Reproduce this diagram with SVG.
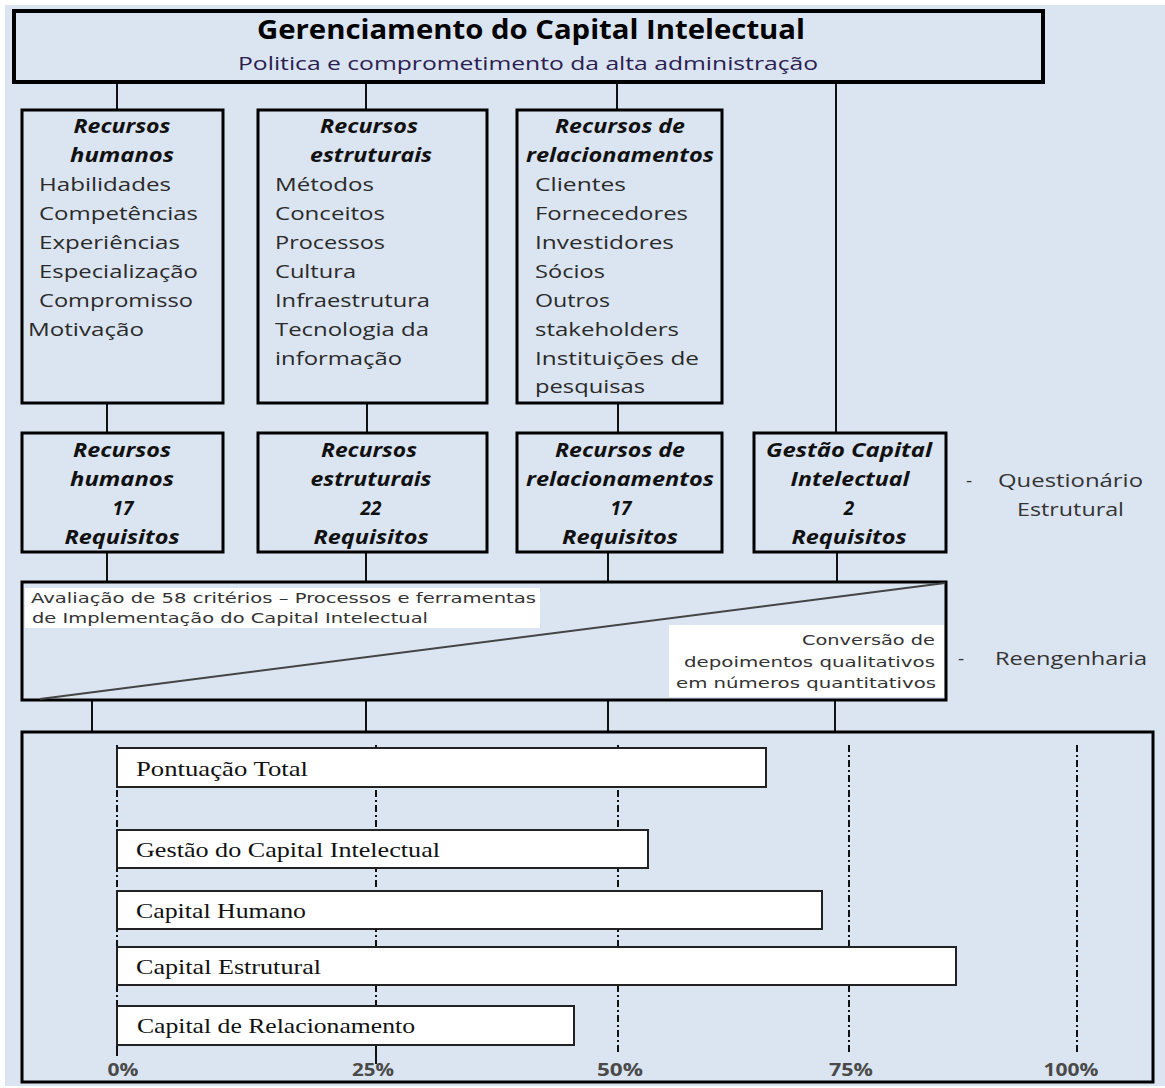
<svg xmlns="http://www.w3.org/2000/svg" width="1165" height="1088" viewBox="0 0 1165 1088">
<style>
.bg{fill:#dbe5f1}
.box{fill:#dbe5f1;stroke:#000;stroke-width:3}
.thick{fill:#dbe5f1;stroke:#000;stroke-width:4}
.panel{fill:#fff;stroke:none}
.bar{fill:#fff;stroke:#222;stroke-width:2}
.con{stroke:#111;stroke-width:2;fill:none}
.grid{stroke:#111;stroke-width:2;stroke-dasharray:7 3 2 3;fill:none}
.title{font-family:"Open Sans","Noto Sans",sans-serif;font-weight:bold;font-size:26px;fill:#000}
.sub{font-family:"Open Sans","Noto Sans",sans-serif;font-size:19px;fill:#2a2050}
.hd{font-family:"Open Sans","Noto Sans",sans-serif;font-weight:bold;font-style:italic;font-size:19px;fill:#111;text-anchor:middle}
.it{font-family:"Open Sans","Noto Sans",sans-serif;font-size:18px;fill:#2a2a2a}
.sm{font-family:"DejaVu Sans","Noto Sans",sans-serif;font-size:14px;fill:#333}
.lab{font-family:"Open Sans","Noto Sans",sans-serif;font-size:19px;fill:#333}
.bl{font-family:"Liberation Serif","Times New Roman",serif;font-size:22px;fill:#111}
.pct{font-family:"Open Sans","Noto Sans",sans-serif;font-weight:bold;font-size:17px;fill:#4a4a4a;text-anchor:middle}
</style>
<rect x="0" y="0" width="1165" height="1088" fill="#fff"/>
<rect class="bg" x="5" y="5" width="1160" height="1081"/>

<g id="connectors">
<line class="con" x1="117" y1="82" x2="117" y2="110"/>
<line class="con" x1="366" y1="82" x2="366" y2="110"/>
<line class="con" x1="617" y1="82" x2="617" y2="110"/>
<line class="con" x1="836" y1="82" x2="836" y2="433"/>
<line class="con" x1="107" y1="403" x2="107" y2="433"/>
<line class="con" x1="367" y1="403" x2="367" y2="433"/>
<line class="con" x1="618" y1="403" x2="618" y2="433"/>
<line class="con" x1="107" y1="552" x2="107" y2="582"/>
<line class="con" x1="366" y1="552" x2="366" y2="582"/>
<line class="con" x1="608" y1="552" x2="608" y2="582"/>
<line class="con" x1="837" y1="552" x2="837" y2="582"/>
<line class="con" x1="92" y1="700" x2="92" y2="732"/>
<line class="con" x1="366" y1="700" x2="366" y2="732"/>
<line class="con" x1="608" y1="700" x2="608" y2="732"/>
<line class="con" x1="835" y1="700" x2="835" y2="732"/>
</g>

<g id="top">
<rect class="thick" x="14" y="11" width="1029" height="71"/>
<text class="title" x="257" y="39" textLength="548" lengthAdjust="spacingAndGlyphs">Gerenciamento do Capital Intelectual</text>
<text class="sub" x="238" y="70" textLength="580" lengthAdjust="spacingAndGlyphs">Politica e comprometimento da alta administração</text>
</g>

<g id="rh">
<rect class="box" x="22" y="110" width="201" height="293"/>
<text class="hd" x="122" y="133" textLength="97" lengthAdjust="spacingAndGlyphs">Recursos</text>
<text class="hd" x="122" y="162" textLength="104" lengthAdjust="spacingAndGlyphs">humanos</text>
<text class="it" x="39" y="191" textLength="132" lengthAdjust="spacingAndGlyphs">Habilidades</text>
<text class="it" x="39" y="220" textLength="159" lengthAdjust="spacingAndGlyphs">Competências</text>
<text class="it" x="39" y="249" textLength="141" lengthAdjust="spacingAndGlyphs">Experiências</text>
<text class="it" x="39" y="278" textLength="159" lengthAdjust="spacingAndGlyphs">Especialização</text>
<text class="it" x="39" y="307" textLength="154" lengthAdjust="spacingAndGlyphs">Compromisso</text>
<text class="it" x="28" y="336" textLength="116" lengthAdjust="spacingAndGlyphs">Motivação</text>
</g>

<g id="re">
<rect class="box" x="258" y="110" width="229" height="293"/>
<text class="hd" x="369" y="133" textLength="98" lengthAdjust="spacingAndGlyphs">Recursos</text>
<text class="hd" x="371" y="162" textLength="122" lengthAdjust="spacingAndGlyphs">estruturais</text>
<text class="it" x="275" y="191" textLength="99" lengthAdjust="spacingAndGlyphs">Métodos</text>
<text class="it" x="275" y="220" textLength="110" lengthAdjust="spacingAndGlyphs">Conceitos</text>
<text class="it" x="275" y="249" textLength="110" lengthAdjust="spacingAndGlyphs">Processos</text>
<text class="it" x="275" y="278" textLength="81" lengthAdjust="spacingAndGlyphs">Cultura</text>
<text class="it" x="275" y="307" textLength="155" lengthAdjust="spacingAndGlyphs">Infraestrutura</text>
<text class="it" x="275" y="336" textLength="154" lengthAdjust="spacingAndGlyphs">Tecnologia da</text>
<text class="it" x="275" y="365" textLength="127" lengthAdjust="spacingAndGlyphs">informação</text>
</g>

<g id="rr">
<rect class="box" x="517" y="110" width="205" height="293"/>
<text class="hd" x="620" y="133" textLength="130" lengthAdjust="spacingAndGlyphs">Recursos de</text>
<text class="hd" x="620" y="162" textLength="188" lengthAdjust="spacingAndGlyphs">relacionamentos</text>
<text class="it" x="535" y="191" textLength="91" lengthAdjust="spacingAndGlyphs">Clientes</text>
<text class="it" x="535" y="220" textLength="153" lengthAdjust="spacingAndGlyphs">Fornecedores</text>
<text class="it" x="535" y="249" textLength="139" lengthAdjust="spacingAndGlyphs">Investidores</text>
<text class="it" x="535" y="278" textLength="70" lengthAdjust="spacingAndGlyphs">Sócios</text>
<text class="it" x="535" y="307" textLength="75" lengthAdjust="spacingAndGlyphs">Outros</text>
<text class="it" x="535" y="336" textLength="144" lengthAdjust="spacingAndGlyphs">stakeholders</text>
<text class="it" x="535" y="365" textLength="164" lengthAdjust="spacingAndGlyphs">Instituições de</text>
<text class="it" x="535" y="393" textLength="110" lengthAdjust="spacingAndGlyphs">pesquisas</text>
</g>

<g id="req-rh">
<rect class="box" x="22" y="433" width="201" height="119"/>
<text class="hd" x="122" y="457" textLength="98" lengthAdjust="spacingAndGlyphs">Recursos</text>
<text class="hd" x="122" y="486" textLength="104" lengthAdjust="spacingAndGlyphs">humanos</text>
<text class="hd" x="123" y="515">17</text>
<text class="hd" x="122" y="544" textLength="115" lengthAdjust="spacingAndGlyphs">Requisitos</text>
</g>

<g id="req-re">
<rect class="box" x="258" y="433" width="229" height="119"/>
<text class="hd" x="369" y="457" textLength="96" lengthAdjust="spacingAndGlyphs">Recursos</text>
<text class="hd" x="371" y="486" textLength="121" lengthAdjust="spacingAndGlyphs">estruturais</text>
<text class="hd" x="371" y="515">22</text>
<text class="hd" x="371" y="544" textLength="115" lengthAdjust="spacingAndGlyphs">Requisitos</text>
</g>

<g id="req-rr">
<rect class="box" x="517" y="433" width="205" height="119"/>
<text class="hd" x="620" y="457" textLength="130" lengthAdjust="spacingAndGlyphs">Recursos de</text>
<text class="hd" x="620" y="486" textLength="188" lengthAdjust="spacingAndGlyphs">relacionamentos</text>
<text class="hd" x="621" y="515">17</text>
<text class="hd" x="620" y="544" textLength="116" lengthAdjust="spacingAndGlyphs">Requisitos</text>
</g>

<g id="req-gci">
<rect class="box" x="754" y="433" width="192" height="119"/>
<text class="hd" x="849" y="457" textLength="166" lengthAdjust="spacingAndGlyphs">Gestão Capital</text>
<text class="hd" x="850" y="486" textLength="119" lengthAdjust="spacingAndGlyphs">Intelectual</text>
<text class="hd" x="849" y="515">2</text>
<text class="hd" x="849" y="544" textLength="115" lengthAdjust="spacingAndGlyphs">Requisitos</text>
</g>

<g id="label-questionario">
<text class="lab" x="969" y="487" text-anchor="middle">-</text>
<text class="lab" x="998" y="487" textLength="145" lengthAdjust="spacingAndGlyphs">Questionário</text>
<text class="lab" x="1017" y="516" textLength="107" lengthAdjust="spacingAndGlyphs">Estrutural</text>
</g>

<g id="avaliacao">
<rect class="box" x="22" y="582" width="924" height="118"/>
<rect class="panel" x="25" y="588" width="515" height="40"/>
<rect class="panel" x="669" y="625" width="275" height="72"/>
<line x1="40" y1="699" x2="945" y2="583" stroke="#444" stroke-width="2"/>
<text class="sm" x="31" y="603" textLength="505" lengthAdjust="spacingAndGlyphs">Avaliação de 58 critérios – Processos e ferramentas</text>
<text class="sm" x="32" y="623" textLength="396" lengthAdjust="spacingAndGlyphs">de Implementação do Capital Intelectual</text>
<text class="sm" x="802" y="645" textLength="133" lengthAdjust="spacingAndGlyphs">Conversão de</text>
<text class="sm" x="684" y="667" textLength="251" lengthAdjust="spacingAndGlyphs">depoimentos qualitativos</text>
<text class="sm" x="676" y="688" textLength="260" lengthAdjust="spacingAndGlyphs">em números quantitativos</text>
</g>

<g id="label-reengenharia">
<text class="lab" x="961" y="665" text-anchor="middle">-</text>
<text class="lab" x="995" y="665" textLength="152" lengthAdjust="spacingAndGlyphs">Reengenharia</text>
</g>

<g id="chart">
<rect class="box" x="22" y="732" width="1131" height="350"/>
<line class="grid" x1="117" y1="745" x2="117" y2="1046"/>
<line class="grid" x1="376" y1="745" x2="376" y2="1046"/>
<line class="grid" x1="618" y1="745" x2="618" y2="1055"/>
<line class="grid" x1="849" y1="745" x2="849" y2="1055"/>
<line class="grid" x1="1077" y1="745" x2="1077" y2="1055"/>
<line class="con" x1="117" y1="1044" x2="117" y2="1056"/>
<line class="con" x1="376" y1="1046" x2="376" y2="1064"/>
<rect class="bar" x="117" y="748" width="649" height="39"/>
<rect class="bar" x="117" y="830" width="531" height="38"/>
<rect class="bar" x="117" y="891" width="705" height="38"/>
<rect class="bar" x="117" y="947" width="839" height="38"/>
<rect class="bar" x="117" y="1006" width="457" height="39"/>
<text class="bl" x="136" y="776" textLength="172" lengthAdjust="spacingAndGlyphs">Pontuação Total</text>
<text class="bl" x="136" y="857" textLength="304" lengthAdjust="spacingAndGlyphs">Gestão do Capital Intelectual</text>
<text class="bl" x="136" y="918" textLength="170" lengthAdjust="spacingAndGlyphs">Capital Humano</text>
<text class="bl" x="136" y="974" textLength="185" lengthAdjust="spacingAndGlyphs">Capital Estrutural</text>
<text class="bl" x="137" y="1033" textLength="278" lengthAdjust="spacingAndGlyphs">Capital de Relacionamento</text>
<text class="pct" x="123" y="1076" textLength="31" lengthAdjust="spacingAndGlyphs">0%</text>
<text class="pct" x="373" y="1076" textLength="42" lengthAdjust="spacingAndGlyphs">25%</text>
<text class="pct" x="620" y="1076" textLength="46" lengthAdjust="spacingAndGlyphs">50%</text>
<text class="pct" x="851" y="1076" textLength="44" lengthAdjust="spacingAndGlyphs">75%</text>
<text class="pct" x="1071" y="1076" textLength="55" lengthAdjust="spacingAndGlyphs">100%</text>
</g>
</svg>
